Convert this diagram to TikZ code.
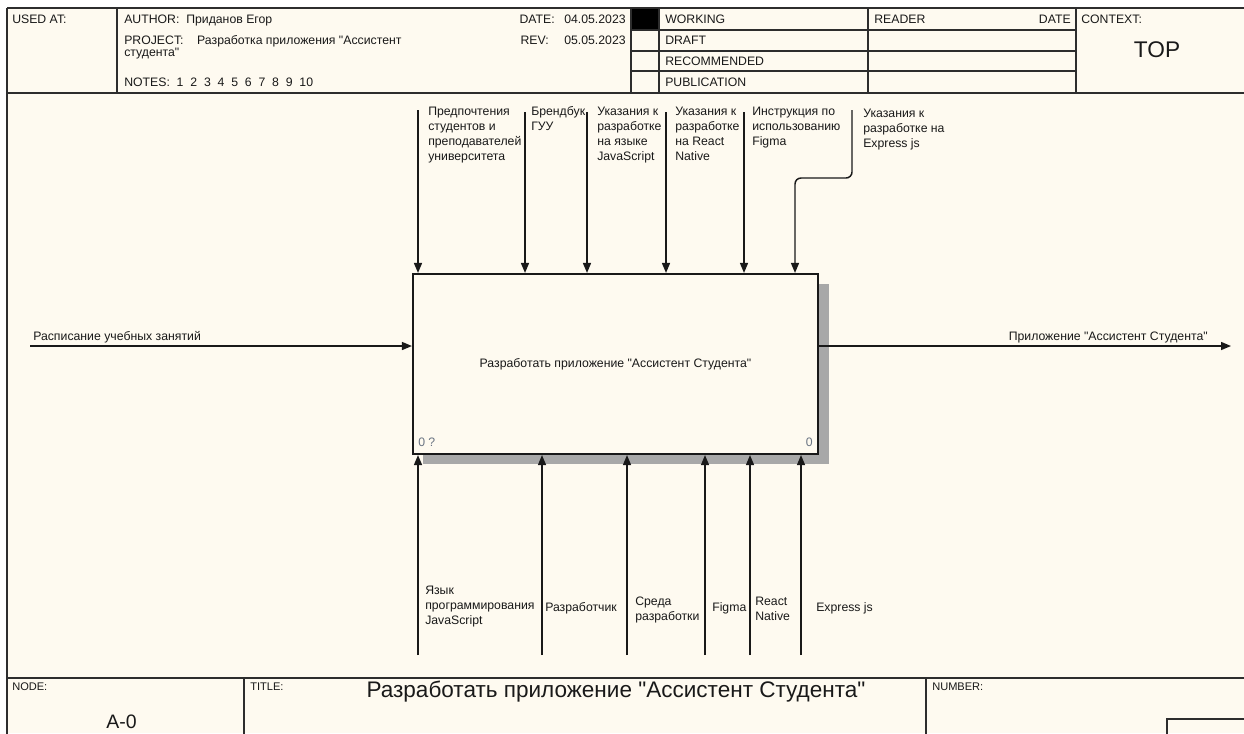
\documentclass[tikz,border=0pt]{standalone}
\usepackage{fontspec}
\setmainfont{Liberation Sans}[Ligatures=TeXOff]
\usetikzlibrary{arrows.meta}
\definecolor{paper}{RGB}{254,250,240}
\definecolor{ink}{RGB}{25,25,25}
\definecolor{rule}{RGB}{45,45,45}
\definecolor{refno}{RGB}{105,115,130}
\definecolor{shadowgray}{RGB}{168,168,168}
\begin{document}
\begin{tikzpicture}[x=0.75pt,y=-0.75pt,
  lbl/.style={font=\fontsize{9.2}{11.25}\selectfont, inner sep=0pt, align=left, text=ink},
  hdr/.style={lbl, anchor=base west},
  tag/.style={font=\fontsize{8.3}{10}\selectfont, inner sep=0pt, text=ink, anchor=base west},
  frameline/.style={draw=rule, line width=1.2pt},
  thinline/.style={draw=rule, line width=1pt},
  flow/.style={draw=ink, line width=1.1pt},
  tip/.style={-{Triangle[length=7.5pt,width=6pt]}},
  func/.style={draw=ink, line width=1.6pt, fill=paper, minimum width=303.75pt, minimum height=135pt,
    font=\fontsize{9.2}{11}\selectfont, text=ink},
  num/.style={font=\fontsize{9.2}{11}\selectfont, inner sep=0pt, text=refno}
]
\useasboundingbox (0,0) rectangle (1244,733);
\fill[white] (0,0) rectangle (1244,733);
\fill[paper] (7,8) rectangle (1244,733);

% ---------- header block ----------
\fill[black] (631,8) rectangle (659,30);
\draw[frameline] (7,8) -- (1250,8);
\draw[frameline] (7,93) -- (1250,93);
\draw[frameline] (7,8) -- (7,740);
\foreach \xx in {117,631,659,868,1076} \draw[frameline] (\xx,8) -- (\xx,93);
\foreach \yy in {30,51,71} \draw[thinline] (631,\yy) -- (1076,\yy);

\node[hdr] (usedat) at (12,23.5) {USED AT:};
\node[hdr] (author) at (124,23.5) {AUTHOR:\ \ Приданов Егор};
\node[hdr] (project) at (124,44.5) {PROJECT:\ \ \ \ Разработка приложения "Ассистент};
\node[hdr] (project2) at (124,56.5) {студента"};
\node[hdr] (notes) at (124,86.5) {NOTES:\ \ 1\ \ 2\ \ 3\ \ 4\ \ 5\ \ 6\ \ 7\ \ 8\ \ 9\ \ 10};
\node[lbl, anchor=base east] (datelbl) at (555,23.5) {DATE:};
\node[hdr] (dateval) at (564,23.5) {04.05.2023};
\node[lbl, anchor=base east] (revlbl) at (549,44.5) {REV:};
\node[hdr] (revval) at (564,44.5) {05.05.2023};
\node[hdr] (working) at (665,23.5) {WORKING};
\node[hdr] (draft) at (665,44.5) {DRAFT};
\node[hdr] (recommended) at (665,65.5) {RECOMMENDED};
\node[hdr] (publication) at (665,86.5) {PUBLICATION};
\node[hdr] (reader) at (874,23.5) {READER};
\node[lbl, anchor=base east] (readdate) at (1071,23.5) {DATE};
\node[hdr] (context) at (1081,23.5) {CONTEXT:};
\node[font=\fontsize{17}{19}\selectfont, inner sep=0pt, text=ink] (top) at (1157,50) {TOP};

% ---------- footer block ----------
\draw[frameline] (7,678) -- (1250,678);
\draw[frameline] (244,678) -- (244,740);
\draw[frameline] (926,678) -- (926,740);
\draw[frameline] (1167,740) -- (1167,719) -- (1250,719);
\node[tag] (nodetag) at (12,690) {NODE:};
\node[tag] (titletag) at (250,690) {TITLE:};
\node[tag] (numbertag) at (932,690) {NUMBER:};
\node[font=\fontsize{16.9}{19}\selectfont, inner sep=0pt, text=ink] (title) at (616,692)
  {Разработать приложение "Ассистент Студента"};
\node[font=\fontsize{14.6}{17}\selectfont, inner sep=0pt, text=ink] (nodeid) at (121.5,722) {A-0};

% ---------- activity box ----------
\fill[shadowgray] (423,284) rectangle (829,464);
\node[func] (box) at (615.5,364) {Разработать приложение "Ассистент Студента"};
\node[num, anchor=west] (boxref) at (418,442) {0 ?};
\node[num, anchor=east] (boxno) at (813,442) {0};

% ---------- controls (top) ----------
\coordinate (c1) at (418,110);
\coordinate (c2) at (525,112);
\coordinate (c3) at (587,112);
\coordinate (c4) at (666,112);
\coordinate (c5) at (744,112);
\coordinate (c6) at (852,110);
\coordinate (c6bend) at (795,178);
\foreach \c in {c1,c2,c3,c4,c5} \draw[flow,tip] (\c) -- (\c |- box.north);
\draw[flow,tip,rounded corners=4.5pt] (c6) |- (c6bend) -- (c6bend |- box.north);

\node[lbl, anchor=north west] (cl1) at (428,106.5) {Предпочтения\\студентов и\\преподавателей\\университета};
\node[lbl, anchor=north west] (cl2) at (531,106.5) {Брендбук\\ГУУ};
\node[lbl, anchor=north west] (cl3) at (597,106.5) {Указания к\\разработке\\на языке\\JavaScript};
\node[lbl, anchor=north west] (cl4) at (675,106.5) {Указания к\\разработке\\на React\\Native};
\node[lbl, anchor=north west] (cl5) at (752,106.5) {Инструкция по\\использованию\\Figma};
\node[lbl, anchor=north west] (cl6) at (863,108.5) {Указания к\\разработке на\\Express js};

% ---------- input / output ----------
\coordinate (inp) at (30,346);
\coordinate (outp) at (1231,346);
\draw[flow,tip] (inp) -- (inp -| box.west);
\draw[flow,tip] (box.east |- outp) -- (outp);
\node[lbl, anchor=base west] (inlbl) at (33,340.5) {Расписание учебных занятий};
\node[lbl, anchor=base east] (outlbl) at (1208,340.5) {Приложение "Ассистент Студента"};

% ---------- mechanisms (bottom) ----------
\coordinate (m1) at (418,655);
\coordinate (m2) at (542,655);
\coordinate (m3) at (627,655);
\coordinate (m4) at (705,655);
\coordinate (m5) at (750,655);
\coordinate (m6) at (801,655);
\foreach \m in {m1,m2,m3,m4,m5,m6} \draw[flow,tip] (\m) -- (\m |- box.south);

\node[lbl, anchor=north west] (ml1) at (425,585.5) {Язык\\программирования\\JavaScript};
\node[lbl, anchor=base west] (ml2) at (545,611.5) {Разработчик};
\node[lbl, anchor=north west] (ml3) at (635,596.5) {Среда\\разработки};
\node[lbl, anchor=base west] (ml4) at (712,611.5) {Figma};
\node[lbl, anchor=north west] (ml5) at (755,596.5) {React\\Native};
\node[lbl, anchor=base west] (ml6) at (816,611.5) {Express js};
\end{tikzpicture}
\end{document}
